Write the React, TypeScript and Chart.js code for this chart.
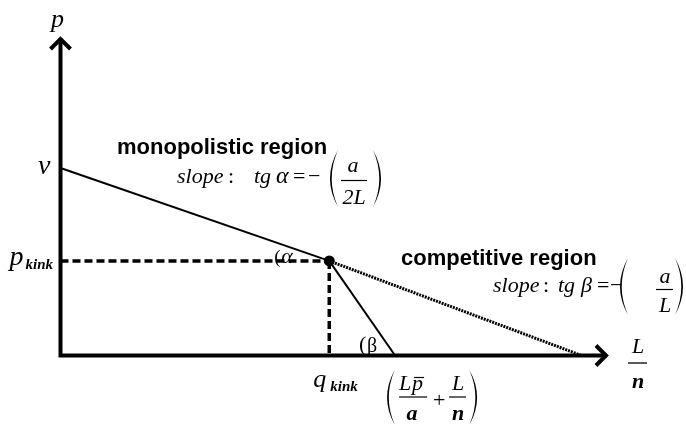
import { useEffect, useRef } from "react";
import { Chart, registerables } from "chart.js";

Chart.register(...registerables);

// Axis extents (quantity L/n on x, price p on y)
const axisLimitQ = 100;
const axisLimitP = 100;

// Kinked demand schedule
const monopolyQ = [0, 49];
const monopolyP = [58.7, 29.6];
const competitiveQ = [49, 61];
const competitiveP = [29.6, 0];
const extensionQ = [49, 95];
const extensionP = [29.6, 0];
const kinkQ = [49];
const kinkP = [29.6];

// Guide lines to the kink
const guidePriceQ = [0, 49];
const guidePriceP = [29.6, 29.6];
const guideQuantityQ = [49, 49];
const guideQuantityP = [29.6, 0];

const SERIF = '"Liberation Serif", "Times New Roman", serif';
const SANS = '"Liberation Sans", Arial, sans-serif';

const pts = (xs: number[], ys: number[]) => xs.map((x, i) => ({ x, y: ys[i] }));

function serif(size: number, italic = true, bold = false) {
  return `${italic ? "italic " : ""}${bold ? "bold " : ""}${size}px ${SERIF}`;
}

function txt(
  ctx: CanvasRenderingContext2D,
  s: string,
  x: number,
  y: number,
  font: string,
  align: CanvasTextAlign = "left"
) {
  ctx.font = font;
  ctx.textAlign = align;
  ctx.textBaseline = "alphabetic";
  ctx.fillText(s, x, y);
}

// Stretched bracket drawn as a thin crescent
function paren(
  ctx: CanvasRenderingContext2D,
  left: number,
  width: number,
  top: number,
  bottom: number,
  open: boolean
) {
  const mid = (top + bottom) / 2;
  const t = 1.7;
  ctx.beginPath();
  if (open) {
    const tipX = left + width;
    ctx.moveTo(tipX, top);
    ctx.quadraticCurveTo(left - width, mid, tipX, bottom);
    ctx.quadraticCurveTo(left - width + 2 * t, mid, tipX, top);
  } else {
    const tipX = left;
    const right = left + width;
    ctx.moveTo(tipX, top);
    ctx.quadraticCurveTo(right + width, mid, tipX, bottom);
    ctx.quadraticCurveTo(right + width - 2 * t, mid, tipX, top);
  }
  ctx.closePath();
  ctx.fill();
}

function bar(ctx: CanvasRenderingContext2D, x1: number, x2: number, y: number, w = 1.2) {
  ctx.save();
  ctx.lineWidth = w;
  ctx.beginPath();
  ctx.moveTo(x1, y);
  ctx.lineTo(x2, y);
  ctx.stroke();
  ctx.restore();
}

const diagramPlugin = {
  id: "kinkedDemandDecor",
  afterDatasetsDraw(chart: any) {
    const ctx: CanvasRenderingContext2D = chart.ctx;
    const xs = chart.scales.x;
    const ys = chart.scales.y;
    const x0 = xs.getPixelForValue(0);
    const y0 = ys.getPixelForValue(0);
    const xEnd = xs.getPixelForValue(axisLimitQ);
    const yTop = ys.getPixelForValue(axisLimitP);
    const yV = ys.getPixelForValue(monopolyP[0]);
    const xK = xs.getPixelForValue(kinkQ[0]);
    const yK = ys.getPixelForValue(kinkP[0]);
    const xC = xs.getPixelForValue(competitiveQ[1]);

    ctx.save();
    ctx.fillStyle = "#000";
    ctx.strokeStyle = "#000";

    // Axes
    ctx.lineWidth = 4;
    ctx.lineJoin = "miter";
    ctx.lineCap = "butt";
    ctx.beginPath();
    ctx.moveTo(x0, yTop + 2);
    ctx.lineTo(x0, y0);
    ctx.lineTo(xEnd - 2, y0);
    ctx.stroke();

    // Arrowheads
    ctx.beginPath();
    ctx.moveTo(x0 - 10, yTop + 13);
    ctx.lineTo(x0, yTop + 3);
    ctx.lineTo(x0 + 10, yTop + 13);
    ctx.stroke();
    ctx.beginPath();
    ctx.moveTo(xEnd - 13, y0 - 10);
    ctx.lineTo(xEnd - 3, y0);
    ctx.lineTo(xEnd - 13, y0 + 10);
    ctx.stroke();

    // Axis labels
    txt(ctx, "p", x0 - 3, yTop - 9, serif(26), "center");
    txt(ctx, "v", x0 - 10, yV + 6, serif(28), "right");

    txt(ctx, "p", x0 - 51, yK + 4, serif(28));
    txt(ctx, "kink", x0 - 35, yK + 8, serif(15, true, true));

    txt(ctx, "q", xK - 16, y0 + 31, serif(26));
    txt(ctx, "kink", xK + 1, y0 + 35, serif(15, true, true));

    // L / n
    txt(ctx, "L", xEnd + 29, y0 - 3, serif(22), "center");
    bar(ctx, xEnd + 19, xEnd + 38, y0 + 7.5, 1.3);
    txt(ctx, "n", xEnd + 29, y0 + 32, serif(22, true, true), "center");

    // Angle marks
    txt(ctx, "(", xK - 55, yK + 2, serif(19, false));
    txt(ctx, "α", xK - 48, yK + 2, serif(22));
    txt(ctx, "(", xC - 36, y0 - 5, serif(22, false));
    txt(ctx, "β", xC - 28, y0 - 4, serif(20, false));

    // (L p̄ / a + L / n) below the competitive intercept
    paren(ctx, xC - 8, 8, y0 + 14, y0 + 70, true);
    txt(ctx, "L", xC + 4, y0 + 34, serif(22));
    txt(ctx, "p", xC + 17, y0 + 34, serif(22));
    bar(ctx, xC + 19, xC + 29, y0 + 22, 1.2);
    bar(ctx, xC + 4, xC + 32, y0 + 41.5, 1.2);
    txt(ctx, "a", xC + 17, y0 + 64, serif(22, true, true), "center");
    txt(ctx, "+", xC + 44, y0 + 51, serif(22, false), "center");
    txt(ctx, "L", xC + 63, y0 + 34, serif(22), "center");
    bar(ctx, xC + 54, xC + 71, y0 + 41.5, 1.2);
    txt(ctx, "n", xC + 63, y0 + 64, serif(22, true, true), "center");
    paren(ctx, xC + 74, 8, y0 + 14, y0 + 70, false);

    // Monopolistic region annotation
    txt(ctx, "monopolistic region", 117, 154, `bold 22px ${SANS}`);
    txt(ctx, "slope", 177, 183, serif(22));
    txt(ctx, ":", 228, 183, serif(22, false));
    txt(ctx, "tg", 254, 183, serif(22));
    txt(ctx, "α", 276, 183, serif(24));
    txt(ctx, "=", 293, 183, serif(22, false));
    txt(ctx, "−", 308, 183, serif(22, false));
    paren(ctx, 330, 8, 150, 207, true);
    txt(ctx, "a", 353, 172, serif(22), "center");
    bar(ctx, 341, 367, 180.5, 1.2);
    txt(ctx, "2L", 354, 204, serif(22), "center");
    paren(ctx, 373, 8, 150, 207, false);

    // Competitive region annotation
    txt(ctx, "competitive region", 401, 265, `bold 22px ${SANS}`);
    txt(ctx, "slope", 493, 292, serif(22));
    txt(ctx, ":", 543, 292, serif(22, false));
    txt(ctx, "tg", 558, 292, serif(22));
    txt(ctx, "β", 581, 292, serif(22));
    txt(ctx, "=", 597, 292, serif(22, false));
    txt(ctx, "−", 610, 292, serif(22, false));
    paren(ctx, 620, 8, 258, 315, true);
    txt(ctx, "a", 665, 283, serif(22), "center");
    bar(ctx, 656, 673, 289.5, 1.2);
    txt(ctx, "L", 665, 312, serif(22), "center");
    paren(ctx, 675, 8, 258, 315, false);

    ctx.restore();
  },
};

export default function App() {
  const canvasRef = useRef<HTMLCanvasElement | null>(null);

  useEffect(() => {
    if (!canvasRef.current) return;
    const chart = new Chart(canvasRef.current, {
      type: "scatter",
      data: {
        datasets: [
          {
            data: pts(monopolyQ, monopolyP),
            showLine: true,
            borderColor: "#000",
            borderWidth: 2,
            pointRadius: 0,
            clip: false,
          },
          {
            data: pts(extensionQ, extensionP),
            showLine: true,
            borderColor: "#000",
            borderWidth: 3,
            borderDash: [2, 1],
            pointRadius: 0,
            clip: false,
          },
          {
            data: pts(competitiveQ, competitiveP),
            showLine: true,
            borderColor: "#000",
            borderWidth: 2,
            pointRadius: 0,
            clip: false,
          },
          {
            data: pts(guidePriceQ, guidePriceP),
            showLine: true,
            borderColor: "#000",
            borderWidth: 3.5,
            borderDash: [8, 4],
            pointRadius: 0,
            clip: false,
          },
          {
            data: pts(guideQuantityQ, guideQuantityP),
            showLine: true,
            borderColor: "#000",
            borderWidth: 3.5,
            borderDash: [8, 4],
            pointRadius: 0,
            clip: false,
          },
          {
            data: pts(kinkQ, kinkP),
            showLine: false,
            pointRadius: 5.5,
            pointBackgroundColor: "#000",
            pointBorderColor: "#000",
            pointBorderWidth: 0,
            clip: false,
          },
        ],
      } as any,
      options: {
        animation: false,
        responsive: true,
        maintainAspectRatio: false,
        events: [],
        layout: { padding: { left: 60.5, right: 77, top: 36, bottom: 68.5 } },
        scales: {
          x: { type: "linear", min: 0, max: axisLimitQ, display: false },
          y: { type: "linear", min: 0, max: axisLimitP, display: false },
        },
        plugins: {
          legend: { display: false },
          tooltip: { enabled: false },
        },
      },
      plugins: [diagramPlugin],
    });
    return () => chart.destroy();
  }, []);

  return (
    <div
      style={{
        position: "fixed",
        left: 0,
        top: 0,
        width: 686,
        height: 424,
        background: "#fff",
      }}
    >
      <canvas ref={canvasRef} />
    </div>
  );
}
